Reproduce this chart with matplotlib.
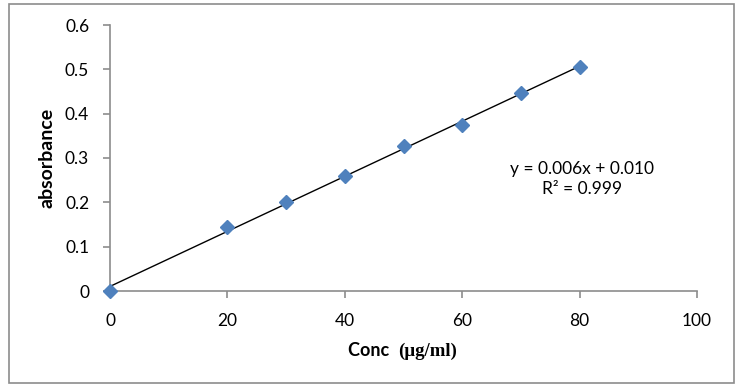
import numpy as np
import matplotlib
matplotlib.use("Agg")
import matplotlib.pyplot as plt
from matplotlib.patches import Rectangle

conc = [0, 20, 30, 40, 50, 60, 70, 80]
absorbance = [0.0, 0.145, 0.200, 0.259, 0.327, 0.374, 0.446, 0.505]
x_ticks = [0, 20, 40, 60, 80, 100]
y_ticks = [0, 0.1, 0.2, 0.3, 0.4, 0.5, 0.6]
y_tick_labels = ["0", "0.1", "0.2", "0.3", "0.4", "0.5", "0.6"]
equation_text = "y = 0.006x + 0.010\nR² = 0.999"

FONT = ["Lato", "DejaVu Sans"]
plt.rcParams['font.family'] = FONT

W, H = 742, 388
fig = plt.figure(figsize=(W/100, H/100), dpi=100)
ax = fig.add_axes([110/W, 1-291/H, (697-110)/W, (291-25)/H])

# trendline
slope, intercept = np.polyfit(conc, absorbance, 1)
xs = np.array([min(conc), max(conc)])
ax.plot(xs, slope*xs + intercept, color="black", lw=1.0, zorder=2)
ax.plot(conc, absorbance, linestyle="none", marker="D", markersize=7,
        color="#4F81BD", markeredgecolor="#4F81BD", zorder=3, clip_on=False)

ax.set_xlim(0, 100)
ax.set_ylim(0, 0.6)
ax.set_xticks(x_ticks)
ax.set_xticklabels([str(t) for t in x_ticks])
ax.set_yticks(y_ticks)
ax.set_yticklabels(y_tick_labels)

for s in ["top", "right"]:
    ax.spines[s].set_visible(False)
for s in ["left", "bottom"]:
    ax.spines[s].set_color("#8C8C8C")
    ax.spines[s].set_linewidth(1.2)
ax.tick_params(axis="both", direction="out", length=5, width=1.2, color="#8C8C8C",
               labelsize=12.5, labelcolor="black")
ax.tick_params(axis="x", pad=11)
ax.tick_params(axis="y", pad=10)

# equation (pixel coordinates from figure bottom-left)
fig.text(582/W, 1-179/H, equation_text, ha="center", va="center",
         fontsize=12.5, linespacing=1.3, family=FONT)

# y label
fig.text(47/W, 1-158/H, "absorbance", rotation=90, ha="center", va="center",
         fontsize=14, fontweight="bold", family=FONT)

# x label: "Conc" sans bold + "(µg/ml)" serif bold
t1 = fig.text(348/W, 1-351/H, "Conc  ", ha="left", va="center",
              fontsize=13, fontweight="bold", family=FONT)
fig.canvas.draw()
ax.annotate("(µg/ml)", xy=(1, 0), xycoords=t1, ha="left", va="bottom",
            fontsize=13.5, fontweight="bold", family=["Liberation Serif", "DejaVu Serif"],
            annotation_clip=False)

# chart border
fig.patches.append(Rectangle((9/W, 1-383/H), (734-9)/W, (383-4)/H,
                             transform=fig.transFigure, fill=False,
                             edgecolor="#8C8C8C", lw=1.2))

fig.savefig("out.png", dpi=100)
